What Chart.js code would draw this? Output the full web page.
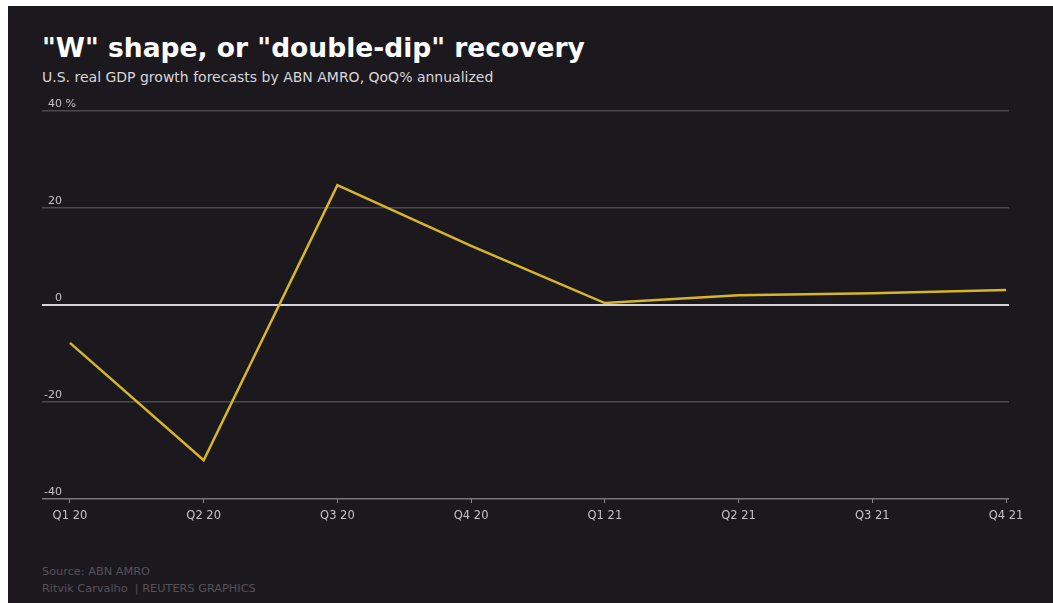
<!DOCTYPE html>
<html lang="en">
<head>
    <meta charset="UTF-8">
    <title>"W" shape, or "double-dip" recovery</title>
    <script src="https://cdn.jsdelivr.net/npm/chart.js"></script>
    <style>
        body {
            margin: 0;
            background: #ffffff;
            width: 1053px;
            height: 603px;
            overflow: hidden;
            font-family: 'DejaVu Sans', sans-serif;
        }

        .panel {
            position: absolute;
            left: 8px;
            top: 6px;
            width: 1045px;
            height: 597px;
            background: #1c191e;
        }

        h1 {
            position: absolute;
            left: 34px;
            top: 26px;
            margin: 0;
            font-size: 26.5px;
            font-weight: 700;
            color: #ffffff;
            white-space: nowrap;
        }

        .subtitle {
            position: absolute;
            left: 34px;
            top: 63px;
            margin: 0;
            font-size: 14px;
            color: #d8d6da;
            white-space: nowrap;
        }

        .chart-container {
            position: absolute;
            left: 0;
            top: 91px;
            width: 1045px;
            height: 442px;
        }

        .footer {
            position: absolute;
            left: 34px;
            top: 557px;
            margin: 0;
            font-size: 11.3px;
            line-height: 17px;
            color: #55515a;
        }
    </style>
</head>
<body>
    <div class="panel">
        <h1>"W" shape, or "double-dip" recovery</h1>
        <p class="subtitle">U.S. real GDP growth forecasts by ABN AMRO, QoQ% annualized</p>
        <div class="chart-container">
            <canvas id="gdpChart"></canvas>
        </div>
        <p class="footer">Source: ABN AMRO<br>Ritvik Carvalho &nbsp;| REUTERS GRAPHICS</p>
    </div>

    <script>
        const quarters = ['Q1 20', 'Q2 20', 'Q3 20', 'Q4 20', 'Q1 21', 'Q2 21', 'Q3 21', 'Q4 21'];
        const gdpGrowth = [-7.8, -32, 24.7, 12.2, 0.4, 2.0, 2.4, 3.1];
        const yTicks = [-40, -20, 0, 20, 40];

        // y labels sit above their gridlines, right-aligned, "%" only on the top one
        const yLabelPlugin = {
            id: 'yLabels',
            afterDraw(chart) {
                const ctx = chart.ctx;
                const y = chart.scales.y;
                const x0 = chart.chartArea.left + 20;
                ctx.save();
                ctx.font = '11px "DejaVu Sans", sans-serif';
                ctx.fillStyle = '#c4c2c7';
                ctx.textBaseline = 'alphabetic';
                yTicks.forEach(v => {
                    const py = y.getPixelForValue(v) - 4;
                    ctx.textAlign = 'right';
                    ctx.fillText(String(v), x0, py);
                    if (v === yTicks[yTicks.length - 1]) {
                        ctx.textAlign = 'left';
                        ctx.fillText(' %', x0, py);
                    }
                });
                ctx.restore();
            }
        };

        new Chart(document.getElementById('gdpChart'), {
            type: 'line',
            data: {
                datasets: [{
                    data: gdpGrowth.map((v, i) => ({ x: i, y: v })),
                    borderColor: '#d6b628',
                    borderWidth: 2.5,
                    pointRadius: 0,
                    tension: 0,
                    fill: false
                }]
            },
            options: {
                responsive: true,
                maintainAspectRatio: false,
                animation: false,
                layout: { padding: { left: 34, right: 44, top: 14, bottom: 0 } },
                plugins: {
                    legend: { display: false },
                    tooltip: { enabled: false }
                },
                scales: {
                    x: {
                        type: 'linear',
                        min: -0.209,
                        max: 7.022,
                        afterBuildTicks: s => { s.ticks = quarters.map((_, i) => ({ value: i })); },
                        afterFit: s => { s.height = 40; },
                        border: { display: false },
                        grid: {
                            drawOnChartArea: false,
                            drawTicks: true,
                            tickLength: 4,
                            color: '#8a878d',
                            lineWidth: 1
                        },
                        ticks: {
                            padding: 6,
                            maxRotation: 0,
                            autoSkip: false,
                            color: '#c4c2c7',
                            font: { family: 'DejaVu Sans', size: 11.5 },
                            callback: v => quarters[v] ?? ''
                        }
                    },
                    y: {
                        min: -40,
                        max: 40,
                        afterBuildTicks: s => { s.ticks = yTicks.map(v => ({ value: v })); },
                        afterFit: s => { s.width = 0; },
                        border: { display: false },
                        grid: {
                            drawTicks: false,
                            color: c => c.tick.value === 0 ? '#d6d4da' : (c.tick.value === -40 ? '#77747a' : '#4b484e'),
                            lineWidth: c => c.tick.value === 0 ? 2 : 1.5
                        },
                        ticks: { display: false }
                    }
                }
            },
            plugins: [yLabelPlugin]
        });
    </script>
</body>
</html>
